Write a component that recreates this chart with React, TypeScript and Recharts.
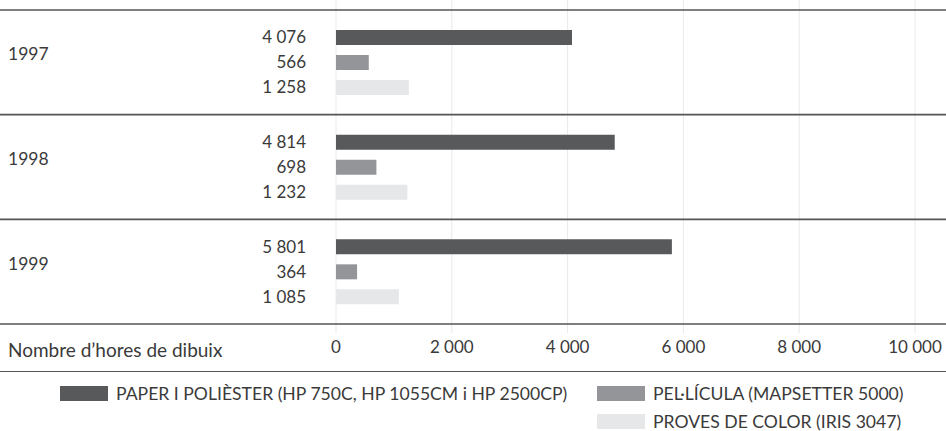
import { BarChart, Bar, XAxis, YAxis, CartesianGrid, LabelList } from "recharts";

const years = ["1997", "1998", "1999"];
const paper = [4076, 4814, 5801];
const pelicula = [566, 698, 364];
const proves = [1258, 1232, 1085];
const xTicks = [0, 2000, 4000, 6000, 8000, 10000];

const series = [
  { key: "paper", name: "PAPER I POLIÈSTER (HP 750C, HP 1055CM i HP 2500CP)", color: "#58595b" },
  { key: "pelicula", name: "PEL·LÍCULA (MAPSETTER 5000)", color: "#939598" },
  { key: "proves", name: "PROVES DE COLOR (IRIS 3047)", color: "#e6e7e8" },
];

const data = years.map((year, i) => ({
  year,
  paper: paper[i],
  pelicula: pelicula[i],
  proves: proves[i],
}));

const FONT = "Lato, 'Open Sans', sans-serif";
const TEXT = "#3a3a3a";
const LINE = "#555557";
const W = 946;
const CHART_H = 371;
const PAD_TOP = 10;
const PAD_BOTTOM = 9;
const AXIS_H = 38;
const band = (CHART_H - AXIS_H - PAD_TOP - PAD_BOTTOM) / years.length;

const fmt = (n: number) => String(n).replace(/\B(?=(\d{3})+(?!\d))/g, " ");

// year label + the dark separator lines around each group
function YearTick(props: any) {
  const { y, payload, index } = props;
  return (
    <g>
      <line x1={0} x2={W} y1={y - band / 2} y2={y - band / 2} stroke={LINE} strokeWidth={1.6} />
      {index === years.length - 1 && (
        <line x1={0} x2={W} y1={y + band / 2} y2={y + band / 2} stroke={LINE} strokeWidth={1.6} />
      )}
      <text x={8} y={y - 8} dy="0.35em" fontSize={17.5} fill={TEXT} fontFamily={FONT}>
        {payload.value}
      </text>
    </g>
  );
}

function ValueLabel(props: any) {
  const { x, y, height, value } = props;
  return (
    <text
      x={x - 30}
      y={y + height / 2}
      dy="0.35em"
      textAnchor="end"
      fontSize={17}
      fill={TEXT}
      fontFamily={FONT}
    >
      {fmt(value)}
    </text>
  );
}

export default function App() {
  return (
    <div style={{ position: "relative", width: W, height: 431, fontFamily: FONT, color: TEXT }}>
      <style>{"body{margin:0}"}</style>
      <BarChart
        width={W}
        height={CHART_H}
        data={data}
        layout="vertical"
        margin={{ top: 0, right: 31, left: 0, bottom: 0 }}
        barGap={10}
      >
        <CartesianGrid horizontal={false} stroke="#e9e9ea" />
        <XAxis
          type="number"
          domain={[0, 10000]}
          ticks={xTicks}
          axisLine={false}
          tickLine={false}
          height={AXIS_H}
          tickFormatter={fmt}
          tick={{ fontSize: 17, fill: TEXT, fontFamily: FONT }}
        />
        <YAxis
          type="category"
          dataKey="year"
          width={336}
          axisLine={false}
          tickLine={false}
          padding={{ top: PAD_TOP, bottom: PAD_BOTTOM }}
          tick={<YearTick />}
        />
        {series.map((s) => (
          <Bar key={s.key} dataKey={s.key} name={s.name} fill={s.color} barSize={15} isAnimationActive={false}>
            <LabelList dataKey={s.key} content={<ValueLabel />} />
          </Bar>
        ))}
      </BarChart>
      <div style={{ position: "absolute", left: 8, top: 338, fontSize: 19 }}>Nombre d’hores de dibuix</div>
      {/* Legend manual */}
      <div
        style={{
          position: "absolute",
          left: 0,
          top: CHART_H,
          width: W,
          borderTop: `1.6px solid ${LINE}`,
          paddingTop: 14,
          paddingLeft: 60,
          boxSizing: "border-box",
          display: "grid",
          gridTemplateColumns: "537px auto",
          rowGap: 13,
          fontSize: 17.6,
        }}
      >
        {series.map((s, i) => (
          <div
            key={s.key}
            style={{
              display: "flex",
              alignItems: "center",
              gap: 8,
              gridColumn: i === 0 ? 1 : 2,
              gridRow: i === 2 ? 2 : 1,
              lineHeight: "15px",
            }}
          >
            <div style={{ width: 48, height: 15, background: s.color, flexShrink: 0 }} />
            <span>{s.name}</span>
          </div>
        ))}
      </div>
    </div>
  );
}
